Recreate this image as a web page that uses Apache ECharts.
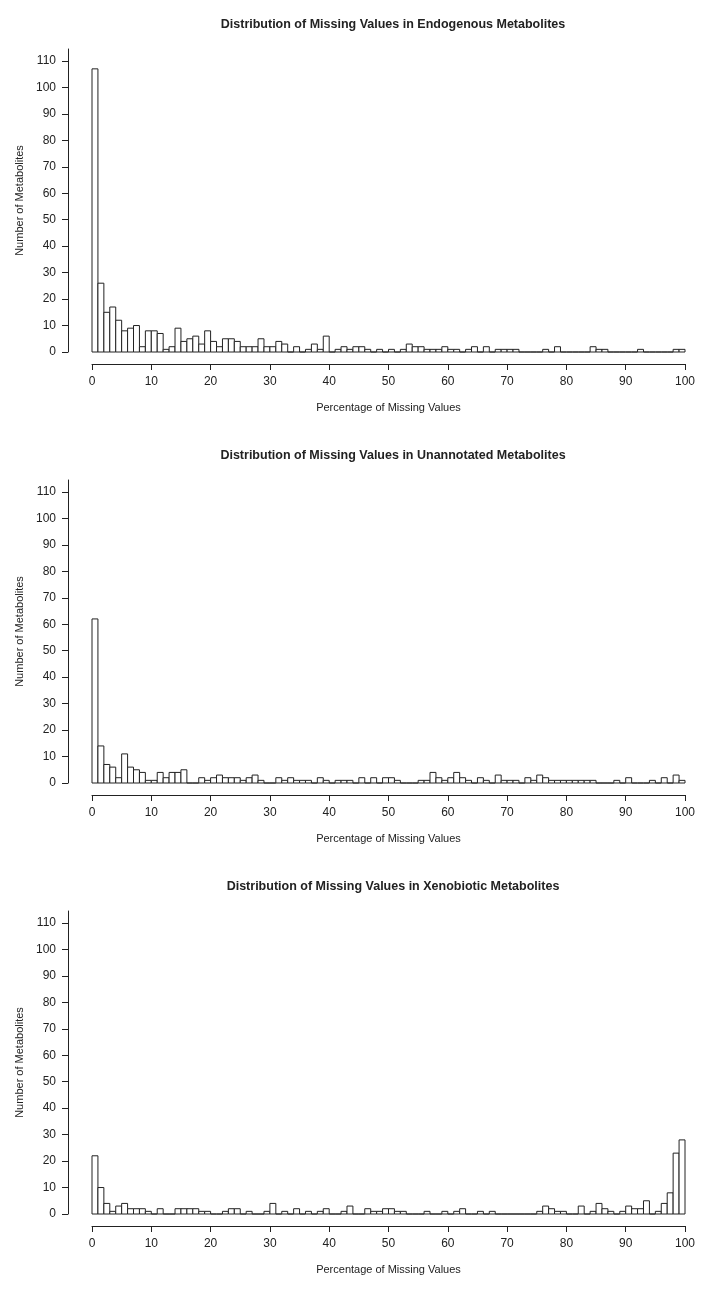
<!DOCTYPE html>
<html>
<head>
<meta charset="utf-8">
<script src="https://cdn.jsdelivr.net/npm/echarts@6/dist/echarts.min.js"></script>
<style>
  html, body { margin: 0; padding: 0; background: #fff; }
  #chart { width: 707px; height: 1291px; }
</style>
</head>
<body>
<div id="chart"></div>
<script>
// counts per 1%-wide bin (bin k covers k..k+1 percent missing)
const endogenous = [
  107, 26, 15, 17, 12, 8, 9, 10, 2, 8,
  8, 7, 1, 2, 9, 4, 5, 6, 3, 8,
  4, 2, 5, 5, 4, 2, 2, 2, 5, 2,
  2, 4, 3, 0, 2, 0, 1, 3, 1, 6,
  0, 1, 2, 1, 2, 2, 1, 0, 1, 0,
  1, 0, 1, 3, 2, 2, 1, 1, 1, 2,
  1, 1, 0, 1, 2, 0, 2, 0, 1, 1,
  1, 1, 0, 0, 0, 0, 1, 0, 2, 0,
  0, 0, 0, 0, 2, 1, 1, 0, 0, 0,
  0, 0, 1, 0, 0, 0, 0, 0, 1, 1
];
const unannotated = [
  62, 14, 7, 6, 2, 11, 6, 5, 4, 1,
  1, 4, 2, 4, 4, 5, 0, 0, 2, 1,
  2, 3, 2, 2, 2, 1, 2, 3, 1, 0,
  0, 2, 1, 2, 1, 1, 1, 0, 2, 1,
  0, 1, 1, 1, 0, 2, 0, 2, 0, 2,
  2, 1, 0, 0, 0, 1, 1, 4, 2, 1,
  2, 4, 2, 1, 0, 2, 1, 0, 3, 1,
  1, 1, 0, 2, 1, 3, 2, 1, 1, 1,
  1, 1, 1, 1, 1, 0, 0, 0, 1, 0,
  2, 0, 0, 0, 1, 0, 2, 0, 3, 1
];
const xenobiotic = [
  22, 10, 4, 1, 3, 4, 2, 2, 2, 1,
  0, 2, 0, 0, 2, 2, 2, 2, 1, 1,
  0, 0, 1, 2, 2, 0, 1, 0, 0, 1,
  4, 0, 1, 0, 2, 0, 1, 0, 1, 2,
  0, 0, 1, 3, 0, 0, 2, 1, 1, 2,
  2, 1, 1, 0, 0, 0, 1, 0, 0, 1,
  0, 1, 2, 0, 0, 1, 0, 1, 0, 0,
  0, 0, 0, 0, 0, 1, 3, 2, 1, 1,
  0, 0, 3, 0, 1, 4, 2, 1, 0, 1,
  3, 2, 2, 5, 0, 1, 4, 8, 23, 28
];
const panelTitles = [
  'Distribution of Missing Values in Endogenous Metabolites',
  'Distribution of Missing Values in Unannotated Metabolites',
  'Distribution of Missing Values in Xenobiotic Metabolites'
];
const panelCounts = [endogenous, unannotated, xenobiotic];
const yTicks = [0, 10, 20, 30, 40, 50, 60, 70, 80, 90, 100, 110];
const xTitle = 'Percentage of Missing Values';
const yTitle = 'Number of Metabolites';

const chart = echarts.init(document.getElementById('chart'));
const font = '"Liberation Sans", Arial, Helvetica, sans-serif';
const ink = '#222';
const panelH = 431;

const grids = [], xAxes = [], yAxes = [], series = [], titles = [];
panelCounts.forEach((counts, i) => {
  const top = 49 + panelH * i;
  grids.push({ left: 92, right: 22, top: top, height: 303 });
  titles.push({
    text: panelTitles[i],
    left: 388, top: 13 + panelH * i, textAlign: 'center',
    textStyle: { fontFamily: font, fontSize: 12.5, fontWeight: 'bold', color: ink }
  });
  xAxes.push({
    gridIndex: i, type: 'value', min: 0, max: 100, interval: 10,
    offset: 12,
    name: xTitle, nameLocation: 'middle', nameGap: 38,
    nameTextStyle: { fontFamily: font, fontSize: 11, color: ink },
    axisLine: { onZero: false, lineStyle: { color: ink, width: 1 } },
    axisTick: { length: 6, lineStyle: { color: ink } },
    axisLabel: { fontFamily: font, fontSize: 12, color: ink, margin: 12 },
    splitLine: { show: false }
  });
  yAxes.push({
    gridIndex: i, type: 'value', min: 0, max: 114.5,
    offset: 24,
    name: yTitle, nameLocation: 'middle', nameGap: 43, nameMoveOverlap: false,
    nameTextStyle: { fontFamily: font, fontSize: 11, color: ink },
    axisLine: { show: true, onZero: false, lineStyle: { color: ink, width: 1 } },
    axisTick: { show: true, length: 6, customValues: yTicks, lineStyle: { color: ink } },
    axisLabel: { fontFamily: font, fontSize: 12, color: ink, margin: 12, customValues: yTicks },
    splitLine: { show: false }
  });
  series.push({
    type: 'custom',
    xAxisIndex: i, yAxisIndex: i,
    data: counts.map((v, k) => [k, v]),
    encode: { x: 0, y: 1 },
    renderItem: (params, api) => {
      const k = api.value(0), v = api.value(1);
      const p0 = api.coord([k, 0]);
      const p1 = api.coord([k + 1, v]);
      return {
        type: 'rect',
        shape: { x: p0[0], y: p1[1], width: p1[0] - p0[0], height: p0[1] - p1[1] },
        style: { fill: '#fff', stroke: ink, lineWidth: 1 }
      };
    },
    silent: true
  });
});

chart.setOption({
  backgroundColor: '#fff',
  animation: false,
  title: titles,
  grid: grids,
  xAxis: xAxes,
  yAxis: yAxes,
  series: series
});
</script>
</body>
</html>
